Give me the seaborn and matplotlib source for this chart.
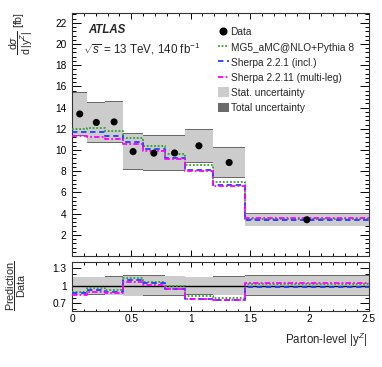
import numpy as np
import pandas as pd
import matplotlib
matplotlib.use("Agg")
import matplotlib.pyplot as plt
import seaborn as sns
from matplotlib.lines import Line2D
from matplotlib.patches import Patch
from matplotlib.ticker import MultipleLocator, FixedLocator

# ---------------- data ----------------
bin_edges = [0, 0.13, 0.28, 0.43, 0.6, 0.78, 0.95, 1.19, 1.46, 2.5]
data_vals = [13.4, 12.6, 12.65, 9.85, 9.7, 9.72, 10.4, 8.82, 3.42]
stat_err = [2.0, 1.85, 1.9, 1.65, 1.6, 1.6, 1.5, 1.35, 0.55]
tot_err = [2.1, 1.95, 2.0, 1.75, 1.7, 1.7, 1.6, 1.45, 0.6]
mg5_vals = [12.0, 12.07, 11.75, 11.1, 10.4, 9.64, 8.54, 6.97, 3.5]
sherpa221_vals = [11.7, 11.7, 11.34, 10.8, 10.08, 9.23, 8.13, 6.72, 3.35]
sherpa2211_vals = [11.35, 11.27, 11.0, 10.55, 9.9, 9.17, 8.04, 6.65, 3.57]

legend_labels = ["Data", "MG5_aMC@NLO+Pythia 8", "Sherpa 2.2.1 (incl.)",
                 "Sherpa 2.2.11 (multi-leg)", "Stat. uncertainty", "Total uncertainty"]
x_ticks = [0, 0.5, 1, 1.5, 2, 2.5]
x_ticklabels = ["0", "0.5", "1", "1.5", "2", "2.5"]
y_ticks = [2, 4, 6, 8, 10, 12, 14, 16, 18, 20, 22]
r_ticks = [0.7, 1.0, 1.3]
r_ticklabels = ["0.7", "1", "1.3"]

# ---------------- style ----------------
sns.set_style("ticks")
plt.rcParams["font.family"] = ["Liberation Sans", "DejaVu Sans"]
plt.rcParams["mathtext.fontset"] = "custom"
plt.rcParams["mathtext.rm"] = "Liberation Sans"
plt.rcParams["mathtext.it"] = "Liberation Sans:italic"
plt.rcParams["mathtext.bf"] = "Liberation Sans:bold"
FS = 7.3

GREEN = "#33a02c"
BLUE = "#1f3fff"
MAGENTA = "#ff00ff"
LIGHT = "#cccccc"
DARK = "#6a6a6a"

edges = np.array(bin_edges)
widths = np.diff(edges)
centers = 0.5 * (edges[:-1] + edges[1:])
data = np.array(data_vals)
serr = np.array(stat_err)
terr = np.array(tot_err)

fig = plt.figure(figsize=(3.82, 3.67), dpi=100)
ax = fig.add_axes([0.1885, 0.3025, 0.7762, 0.6613])
rax = fig.add_axes([0.1885, 0.1526, 0.7762, 0.1343])

# ---------------- main panel ----------------
ax.bar(edges[:-1], 2 * terr, bottom=data - terr, width=widths, align="edge",
       color=DARK, linewidth=0, zorder=1)
ax.bar(edges[:-1], 2 * serr, bottom=data - serr, width=widths, align="edge",
       color=LIGHT, linewidth=0, zorder=1.5)

series = [
    (mg5_vals, GREEN, (0, (1.0, 1.0))),
    (sherpa221_vals, BLUE, (0, (3.0, 2.0))),
    (sherpa2211_vals, MAGENTA, (0, (3.0, 1.2, 1.0, 1.2))),
]
for vals, col, ls in series:
    yv = np.append(vals, vals[-1])
    sns.lineplot(x=edges, y=yv, ax=ax, drawstyle="steps-post", color=col,
                 linestyle=ls, linewidth=1.3, legend=False, zorder=3, sort=False)
    r = np.array(vals) / data
    sns.lineplot(x=edges, y=np.append(r, r[-1]), ax=rax, drawstyle="steps-post",
                 color=col, linestyle=ls, linewidth=1.3, legend=False, zorder=3, sort=False)

sns.scatterplot(x=centers, y=data, ax=ax, color="black", s=26, edgecolor="none",
                zorder=5, legend=False)

ax.set_xlim(0, 2.5)
ax.set_ylim(0, 22.9)
ax.set_xlabel("")
ax.set_ylabel("")
ax.yaxis.set_major_locator(FixedLocator(y_ticks))
ax.yaxis.set_minor_locator(MultipleLocator(0.4))
ax.xaxis.set_major_locator(FixedLocator(x_ticks))
ax.xaxis.set_minor_locator(MultipleLocator(0.1))
ax.set_xticklabels([])
ax.tick_params(axis="both", which="both", direction="in", top=True, right=True,
               labelsize=FS, colors="black", width=0.7)
ax.tick_params(axis="y", which="major", length=6.5, pad=4)
ax.tick_params(axis="y", which="minor", length=3.2)
ax.tick_params(axis="x", which="major", length=4.5)
ax.tick_params(axis="x", which="minor", length=2.3)

ax.text(0.055, 0.93, "ATLAS", transform=ax.transAxes, fontsize=8.3,
        fontweight="bold", fontstyle="italic", va="center", ha="left")
ax.text(0.036, 0.855, r"$\sqrt{s}$ = 13 TeV, 140 fb$^{-1}$", transform=ax.transAxes,
        fontsize=8.4, va="center", ha="left")

handles = [
    Line2D([], [], marker="o", color="black", linestyle="none", markersize=4.8),
    Line2D([], [], color=GREEN, linestyle=(0, (1.0, 1.0)), linewidth=1.3),
    Line2D([], [], color=BLUE, linestyle=(0, (3.0, 2.0)), linewidth=1.3),
    Line2D([], [], color=MAGENTA, linestyle=(0, (3.0, 1.2, 1.0, 1.2)), linewidth=1.3),
    Patch(facecolor=LIGHT, edgecolor="none"),
    Patch(facecolor=DARK, edgecolor="none"),
]
ax.legend(handles, legend_labels, loc="upper left", bbox_to_anchor=(0.492, 0.943),
          frameon=False, fontsize=FS, handlelength=1.1, handleheight=1.1,
          handletextpad=0.15, labelspacing=0.47, borderaxespad=0, borderpad=0)

# ---------------- ratio panel ----------------
rax.bar(edges[:-1], 2 * terr / data, bottom=1 - terr / data, width=widths,
        align="edge", color=DARK, linewidth=0, zorder=1)
rax.bar(edges[:-1], 2 * serr / data, bottom=1 - serr / data, width=widths,
        align="edge", color=LIGHT, linewidth=0, zorder=1.5)
rax.axhline(1.0, color="black", linewidth=1.0, zorder=2)

rax.set_xlim(0, 2.5)
rax.set_ylim(0.57, 1.41)
rax.set_ylabel("")
rax.xaxis.set_major_locator(FixedLocator(x_ticks))
rax.xaxis.set_minor_locator(MultipleLocator(0.1))
rax.set_xticklabels(x_ticklabels)
rax.yaxis.set_major_locator(FixedLocator(r_ticks))
rax.yaxis.set_minor_locator(MultipleLocator(0.1))
rax.set_yticklabels(r_ticklabels)
rax.tick_params(axis="both", which="both", direction="in", top=True, right=True,
                labelsize=FS, colors="black", width=0.7)
rax.tick_params(axis="y", which="major", length=6.5, pad=4)
rax.tick_params(axis="y", which="minor", length=3.2)
rax.tick_params(axis="x", which="major", length=3.5, pad=2)
rax.tick_params(axis="x", which="minor", length=1.8)

for a in (ax, rax):
    for sp in a.spines.values():
        sp.set_linewidth(0.8)
        sp.set_color("#333333")

# ---------------- axis titles ----------------
fig.text(21 / 382, 1 - 12 / 367,
         r"$\dfrac{\mathrm{d}\sigma}{\mathrm{d}\,|\mathrm{y}^{Z}|}$ [fb]",
         rotation=90, ha="center", va="top", fontsize=FS + 0.3)
fig.text(16 / 382, 1 - 286 / 367, r"$\dfrac{\mathrm{Prediction}}{\mathrm{Data}}$",
         rotation=90, ha="center", va="center", fontsize=FS + 0.5)
fig.text(368 / 382, 1 - 340 / 367, r"Parton-level |y$^{Z}$|",
         ha="right", va="center", fontsize=8.3)

fig.savefig("out.png", dpi=100)
